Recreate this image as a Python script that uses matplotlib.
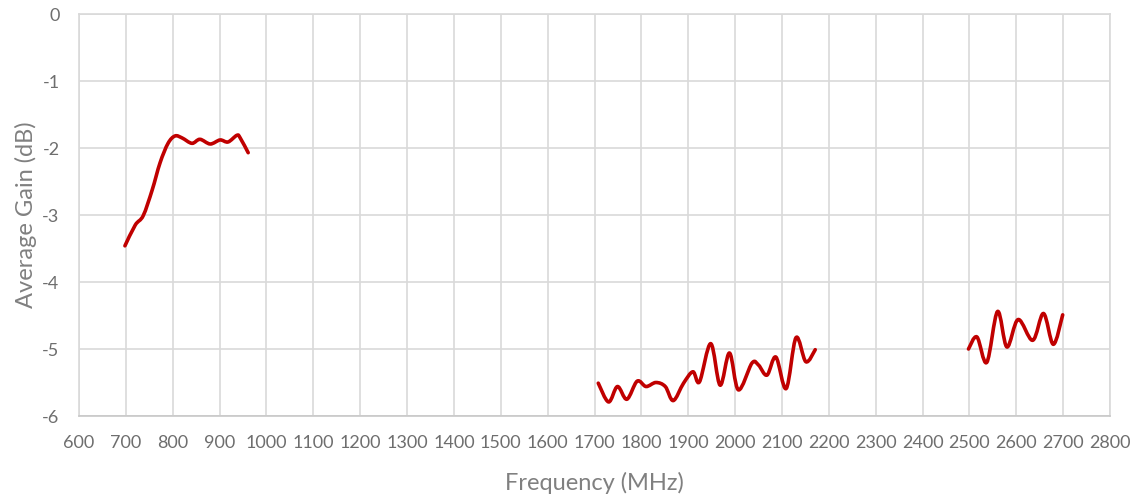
import numpy as np
import matplotlib
matplotlib.use("Agg")
import matplotlib.pyplot as plt
from matplotlib.path import Path
from matplotlib.patches import PathPatch

# Band 1 (low band)
freq_low = [698, 720, 737, 756, 773, 790, 805, 820, 841, 858, 880, 901, 918, 937, 944, 961]
gain_low = [-3.46, -3.15, -3.01, -2.63, -2.22, -1.93, -1.82, -1.85, -1.93, -1.87, -1.94, -1.88, -1.91, -1.81, -1.85, -2.07]

# Band 2 (mid band)
freq_mid = [1708, 1730, 1749, 1769, 1791, 1810, 1831, 1851, 1868, 1890, 1910, 1924, 1948, 1968,
            1988, 2007, 2036, 2050, 2068, 2087, 2109, 2130, 2151, 2171]
gain_mid = [-5.51, -5.79, -5.56, -5.75, -5.48, -5.56, -5.50, -5.56, -5.77, -5.51, -5.34, -5.49, -4.92, -5.54,
            -5.06, -5.61, -5.21, -5.24, -5.39, -5.12, -5.59, -4.83, -5.19, -5.01]

# Band 3 (high band)
freq_high = [2498, 2516, 2537, 2560, 2580, 2604, 2635, 2658, 2679, 2699]
gain_high = [-5.00, -4.82, -5.20, -4.44, -4.97, -4.56, -4.87, -4.47, -4.93, -4.49]

x_ticks = list(range(600, 2801, 100))
y_ticks = [0, -1, -2, -3, -4, -5, -6]

LINE = "#C00000"
GRID = "#D9D9D9"
TICK_TEXT = "#6E6E6E"
TITLE_TEXT = "#808080"
FONT = "Lato"


def smooth_path(xs, ys):
    """Excel-like smoothed line: Catmull-Rom segments as cubic Bezier curves."""
    pts = np.column_stack([xs, ys]).astype(float)
    n = len(pts)
    verts = [pts[0]]
    codes = [Path.MOVETO]
    for i in range(n - 1):
        p0 = pts[i - 1] if i > 0 else pts[i]
        p1 = pts[i]
        p2 = pts[i + 1]
        p3 = pts[i + 2] if i + 2 < n else pts[i + 1]
        c1 = p1 + (p2 - p0) / 6.0
        c2 = p2 - (p3 - p1) / 6.0
        verts += [c1, c2, p2]
        codes += [Path.CURVE4] * 3
    return Path(verts, codes)


fig = plt.figure(figsize=(11.4, 5.04), dpi=100)
ax = fig.add_axes([0.0693, 0.1746, 0.9044, 0.7976])

for xs, ys in [(freq_low, gain_low), (freq_mid, gain_mid), (freq_high, gain_high)]:
    patch = PathPatch(smooth_path(xs, ys), fill=False, edgecolor=LINE, lw=2.6,
                      capstyle="round", joinstyle="round", zorder=3)
    ax.add_patch(patch)

ax.set_xlim(600, 2800)
ax.set_ylim(-6, 0)
ax.set_xticks(x_ticks)
ax.set_yticks(y_ticks)
ax.set_xticklabels([str(t) for t in x_ticks])
ax.set_yticklabels([str(t) for t in y_ticks])

ax.grid(True, color=GRID, lw=1.2, zorder=0)
ax.set_axisbelow(True)
for s in ax.spines.values():
    s.set_color(GRID)
    s.set_linewidth(1.2)
ax.spines["bottom"].set_color("#C8C8C8")

ax.tick_params(axis="both", length=0, colors=TICK_TEXT, labelsize=13)
ax.tick_params(axis="x", pad=14)
ax.tick_params(axis="y", pad=14)
for lab in ax.get_xticklabels() + ax.get_yticklabels():
    lab.set_family(FONT)

ax.set_xlabel("Frequency (MHz)", fontsize=17, color=TITLE_TEXT, family=FONT, labelpad=15)
ax.set_ylabel("Average Gain (dB)", fontsize=17, color=TITLE_TEXT, family=FONT, labelpad=4)

fig.savefig("out.png", dpi=100)
